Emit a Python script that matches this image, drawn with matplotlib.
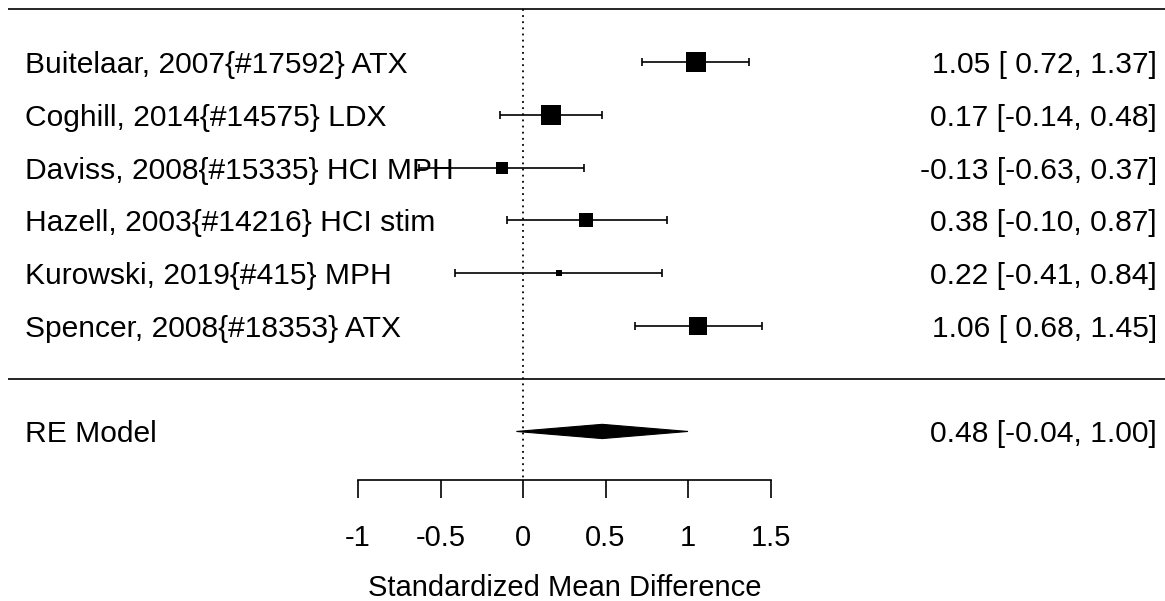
import numpy as np
import matplotlib.pyplot as plt
from matplotlib.patches import Polygon

plt.rcParams['font.family'] = ['Liberation Sans', 'DejaVu Sans']

# study level effects (SMD with 95% CI)
studies = ['Buitelaar, 2007{#17592} ATX',
           'Coghill, 2014{#14575} LDX',
           'Daviss, 2008{#15335} HCI MPH',
           'Hazell, 2003{#14216} HCI stim',
           'Kurowski, 2019{#415} MPH',
           'Spencer, 2008{#18353} ATX']
yi = np.array([1.05, 0.17, -0.13, 0.38, 0.22, 1.06])
ci_lb = np.array([0.72, -0.14, -0.63, -0.10, -0.41, 0.68])
ci_ub = np.array([1.37, 0.48, 0.37, 0.87, 0.84, 1.45])

# random effects summary
re_label = 'RE Model'
re_est = 0.48
re_lb = -0.04
re_ub = 1.00

xticks = [-1, -0.5, 0, 0.5, 1, 1.5]
xticklabels = ['-1', '-0.5', '0', '0.5', '1', '1.5']


def fmt_ci(est, lb, ub):
    return '{:.2f} [{:5.2f}, {:.2f}]'.format(est, lb, ub)


# weights for square sizes: 1/(vi + tau2), tau2 chosen so the pooled SE fits the RE interval
vi = ((ci_ub - ci_lb) / (2 * 1.96)) ** 2
se_re = (re_ub - re_lb) / (2 * 1.96)
lo, hi = 0.0, 10.0
for _ in range(60):
    tau2 = (lo + hi) / 2
    if np.sum(1 / (vi + tau2)) > 1 / se_re ** 2:
        lo = tau2
    else:
        hi = tau2
wi = 1 / (vi + tau2)
psize = (wi - wi.min()) / (wi.max() - wi.min()) + 0.5

k = len(studies)
rows = np.arange(k, 0, -1)

fig = plt.figure(figsize=(11.65, 6.01), dpi=100)
ax = fig.add_axes([0, 0, 1, 1])
ax.set_xlim(-3.1697, 3.8909)
ax.set_ylim(-4.212, 7.174)

txt_left = -3.018
txt_right = 3.842
line_left = -3.121
fs = 21.6
fs_axis = 21

# top and separator rules
ax.plot([line_left, 4.0], [k + 1, k + 1], color='black', lw=1.2, solid_capstyle='butt')
ax.plot([line_left, 4.0], [0, 0], color='black', lw=1.2, solid_capstyle='butt')

# reference line at zero
ax.plot([0, 0], [k + 1, -1.917], color='black', lw=1.3, linestyle=(0, (1, 2.4)))

for i in range(k):
    ax.errorbar(yi[i], rows[i], xerr=[[yi[i] - ci_lb[i]], [ci_ub[i] - yi[i]]],
                fmt='none', ecolor='black', elinewidth=1.2, capsize=2.6, capthick=1.2)
    ax.plot(yi[i], rows[i], marker='s', color='black', markersize=psize[i] * 9.6,
            markeredgewidth=0)
    ax.text(txt_left, rows[i], studies[i], ha='left', va='center_baseline', fontsize=fs)
    ax.text(txt_right, rows[i], fmt_ci(yi[i], ci_lb[i], ci_ub[i]),
            ha='right', va='center_baseline', fontsize=fs)

# summary diamond
dh = 0.135
diamond = Polygon([[re_lb, -1], [re_est, -1 + dh], [re_ub, -1], [re_est, -1 - dh]],
                  closed=True, facecolor='black', edgecolor='black', lw=0.8)
ax.add_patch(diamond)
ax.text(txt_left, -1, re_label, ha='left', va='center_baseline', fontsize=fs)
ax.text(txt_right, -1, fmt_ci(re_est, re_lb, re_ub), ha='right',
        va='center_baseline', fontsize=fs)

# x axis
for s in ['top', 'right', 'left']:
    ax.spines[s].set_visible(False)
ax.spines['bottom'].set_position(('data', -1.917))
ax.spines['bottom'].set_bounds(-1, 1.5)
ax.spines['bottom'].set_linewidth(1.2)
ax.set_xticks(xticks)
ax.set_xticklabels(xticklabels)
ax.tick_params(axis='x', direction='out', length=13, width=1.2, labelsize=fs_axis, pad=19)
ax.set_yticks([])
ax.set_xlabel('Standardized Mean Difference', fontsize=fs_axis)
ax.xaxis.set_label_coords(0.25, -3.96, transform=ax.transData)
ax.xaxis.label.set_va('center')

fig.savefig('out.png', dpi=100)
